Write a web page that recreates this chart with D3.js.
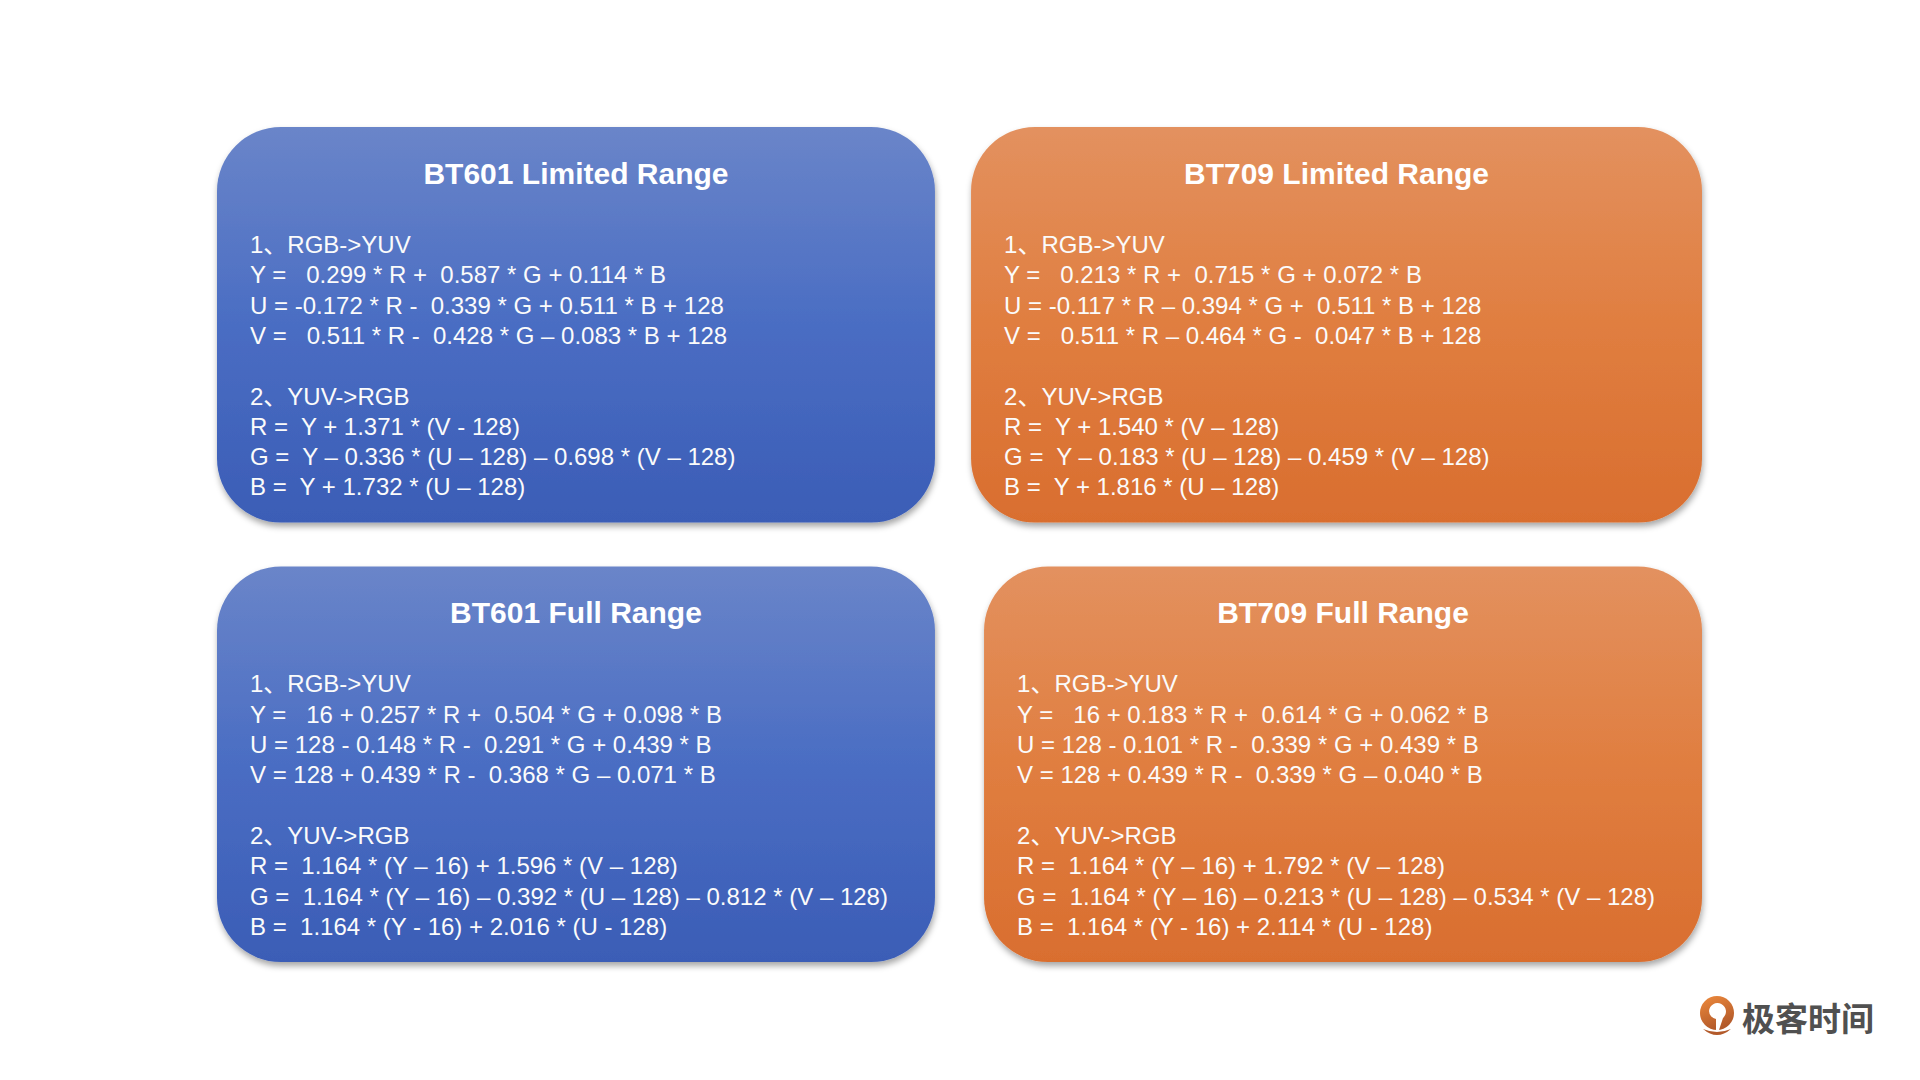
<!DOCTYPE html>
<html>
<head>
<meta charset="utf-8">
<title>YUV / RGB conversion</title>
<script src="https://cdn.jsdelivr.net/npm/d3@7"></script>
<style>
    html, body { margin: 0; padding: 0; background: #fff; }
    svg { display: block; }
    text { white-space: pre; }
</style>
</head>
<body>
<svg id="chart" width="1920" height="1080"></svg>
<script>
// card titles, in reading order
const titles = [
    'BT601 Limited Range', 'BT709 Limited Range',
    'BT601 Full Range', 'BT709 Full Range'
];
const standards = ['BT601', 'BT709'];
const ranges = ['Limited', 'Full'];

const rgbToYuvHeading = '1、RGB->YUV';
const yuvToRgbHeading = '2、YUV->RGB';

const rgbToYuv = [
    [
        'Y =   0.299 * R +  0.587 * G + 0.114 * B',
        'U = -0.172 * R -  0.339 * G + 0.511 * B + 128',
        'V =   0.511 * R -  0.428 * G – 0.083 * B + 128'
    ],
    [
        'Y =   0.213 * R +  0.715 * G + 0.072 * B',
        'U = -0.117 * R – 0.394 * G +  0.511 * B + 128',
        'V =   0.511 * R – 0.464 * G -  0.047 * B + 128'
    ],
    [
        'Y =   16 + 0.257 * R +  0.504 * G + 0.098 * B',
        'U = 128 - 0.148 * R -  0.291 * G + 0.439 * B',
        'V = 128 + 0.439 * R -  0.368 * G – 0.071 * B'
    ],
    [
        'Y =   16 + 0.183 * R +  0.614 * G + 0.062 * B',
        'U = 128 - 0.101 * R -  0.339 * G + 0.439 * B',
        'V = 128 + 0.439 * R -  0.339 * G – 0.040 * B'
    ]
];

const yuvToRgb = [
    [
        'R =  Y + 1.371 * (V - 128)',
        'G =  Y – 0.336 * (U – 128) – 0.698 * (V – 128)',
        'B =  Y + 1.732 * (U – 128)'
    ],
    [
        'R =  Y + 1.540 * (V – 128)',
        'G =  Y – 0.183 * (U – 128) – 0.459 * (V – 128)',
        'B =  Y + 1.816 * (U – 128)'
    ],
    [
        'R =  1.164 * (Y – 16) + 1.596 * (V – 128)',
        'G =  1.164 * (Y – 16) – 0.392 * (U – 128) – 0.812 * (V – 128)',
        'B =  1.164 * (Y - 16) + 2.016 * (U - 128)'
    ],
    [
        'R =  1.164 * (Y – 16) + 1.792 * (V – 128)',
        'G =  1.164 * (Y – 16) – 0.213 * (U – 128) – 0.534 * (V – 128)',
        'B =  1.164 * (Y - 16) + 2.114 * (U - 128)'
    ]
];

const brand = '极客时间';

// colours per standard: top, middle, bottom of the card gradient
const palette = {
    BT601: ['#6a85c9', '#4a6dc3', '#3b5db6'],
    BT709: ['#e3915f', '#e07e40', '#d96e2f']
};

const svg = d3.select('#chart');
const defs = svg.append('defs');

const x = d3.scaleBand().domain(standards).range([217, 1702]).paddingInner(0.064);
const y = d3.scaleBand().domain(ranges).range([127, 962]).paddingInner(0.1);

// the top right card sits a little further left in the original slide
const leftShift = (s, r) => (s === 'BT709' && r === 'Limited') ? 13 : 0;

const lineStep = 30.3;
const textFont = '"Liberation Sans", Arial, "Noto Sans CJK SC", sans-serif';

for (let s of standards) {
    let g = defs.append('linearGradient')
        .attr('id', `grad-${s}`)
        .attr('x1', 0).attr('y1', 0).attr('x2', 0).attr('y2', 1);
    palette[s].forEach((c, i) => {
        g.append('stop').attr('offset', i / (palette[s].length - 1)).attr('stop-color', c);
    });
}

defs.append('filter')
    .attr('id', 'shadow')
    .attr('x', '-5%').attr('y', '-5%').attr('width', '110%').attr('height', '115%')
    .append('feDropShadow')
    .attr('dx', 1).attr('dy', 4).attr('stdDeviation', 3)
    .attr('flood-color', '#000').attr('flood-opacity', 0.35);

const cards = titles.map((t, i) => ({
    title: t,
    standard: standards[i % 2],
    range: ranges[Math.floor(i / 2)],
    rgbToYuv: rgbToYuv[i],
    yuvToRgb: yuvToRgb[i]
}));
cards.forEach(d => {
    d.shift = leftShift(d.standard, d.range);
    d.width = x.bandwidth() + d.shift;
});

const card = svg.selectAll('g.card')
    .data(cards)
    .join('g')
    .attr('class', 'card')
    .attr('transform', d => `translate(${x(d.standard) - d.shift},${y(d.range)})`);

card.append('rect')
    .attr('width', d => d.width)
    .attr('height', y.bandwidth())
    .attr('rx', 64).attr('ry', 64)
    .attr('fill', d => `url(#grad-${d.standard})`)
    .attr('filter', 'url(#shadow)');

card.append('text')
    .attr('x', d => d.width / 2)
    .attr('y', 57)
    .attr('text-anchor', 'middle')
    .attr('font-family', textFont)
    .attr('font-weight', 700)
    .attr('font-size', 30)
    .attr('fill', '#fff')
    .text(d => d.title);

// body: heading, three formulas, blank line, heading, three formulas
const bodyLines = d => [rgbToYuvHeading, ...d.rgbToYuv, '', yuvToRgbHeading, ...d.yuvToRgb];

card.append('text')
    .attr('font-family', textFont)
    .attr('font-size', 24)
    .attr('fill', '#fbfbfb')
    .attr('xml:space', 'preserve')
    .selectAll('tspan')
    .data(bodyLines)
    .join('tspan')
    .attr('x', 33)
    .attr('y', (_, i) => 126 + i * lineStep)
    .text(l => l);

// brand mark, bottom right
const logo = svg.append('g').attr('transform', 'translate(1717,1013)');
const logoGrad = defs.append('linearGradient')
    .attr('id', 'logo-grad')
    .attr('x1', 0).attr('y1', 0).attr('x2', 0.4).attr('y2', 1);
logoGrad.append('stop').attr('offset', 0).attr('stop-color', '#ee8a3c');
logoGrad.append('stop').attr('offset', 1).attr('stop-color', '#b35a2a');

logo.append('circle').attr('r', 17).attr('fill', 'url(#logo-grad)');
logo.append('path')
    .attr('d', 'M-8,-2 A8.5,8.5 0 1,1 6,5 L2,17 L-1,17 L-1,6 A8.5,8.5 0 0,1 -8,-2 Z')
    .attr('fill', '#fff');
logo.append('path')
    .attr('d', 'M-14,16 Q0,28 14,16 Q0,22 -14,16 Z')
    .attr('fill', '#b35a2a');

svg.append('text')
    .attr('x', 1742)
    .attr('y', 1031)
    .attr('font-family', '"Noto Sans CJK SC", sans-serif')
    .attr('font-weight', 700)
    .attr('font-size', 33)
    .attr('fill', '#505050')
    .text(brand);
</script>
</body>
</html>
